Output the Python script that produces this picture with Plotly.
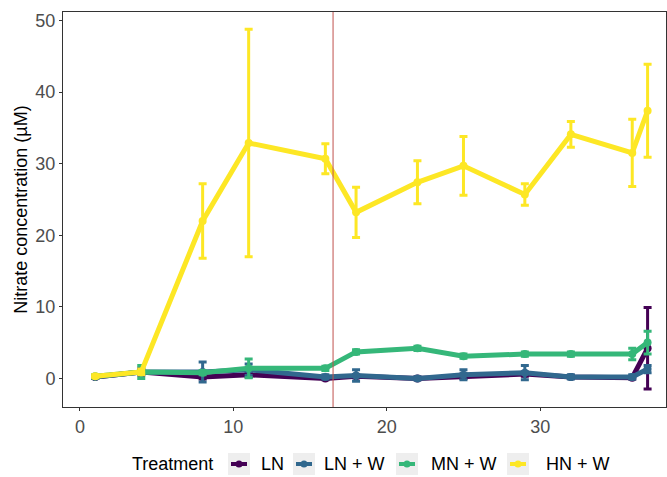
import plotly.graph_objects as go

# Sampling days
days = [1, 4, 8, 11, 16, 18, 22, 25, 29, 32, 36, 37]

# Mean nitrate concentration (µM) per treatment and its standard error
ln_mean = [0.2, 0.9, 0.2, 0.5, 0.0, 0.3, 0.0, 0.3, 0.6, 0.2, 0.1, 4.2]
ln_err = [0.2, 0.3, 0.3, 0.3, 0.2, 0.2, 0.2, 0.3, 0.3, 0.2, 0.2, 5.7]

lnw_mean = [0.2, 0.9, 0.9, 1.2, 0.2, 0.4, 0.0, 0.5, 0.8, 0.2, 0.2, 1.3]
lnw_err = [0.2, 0.5, 1.4, 0.8, 0.3, 0.8, 0.2, 0.7, 1.0, 0.3, 0.3, 0.5]

mnw_mean = [0.3, 0.9, 0.8, 1.4, 1.4, 3.7, 4.2, 3.1, 3.4, 3.4, 3.4, 5.0]
mnw_err = [0.2, 0.9, 0.3, 1.3, 0.3, 0.3, 0.3, 0.3, 0.3, 0.3, 0.8, 1.6]

hnw_mean = [0.3, 0.9, 22.0, 32.9, 30.7, 23.2, 27.4, 29.7, 25.7, 34.1, 31.5, 37.4]
hnw_err = [0.2, 0.4, 5.2, 15.9, 2.1, 3.5, 3.0, 4.1, 1.5, 1.8, 4.7, 6.5]

treatments = ["LN", "LN + W", "MN + W", "HN + W"]
colors = ["#440154", "#31688E", "#35B779", "#FDE725"]
means = [ln_mean, lnw_mean, mnw_mean, hnw_mean]
errs = [ln_err, lnw_err, mnw_err, hnw_err]

event_day = 16.5
x_ticks = [0, 10, 20, 30]
y_ticks = [0, 10, 20, 30, 40, 50]

FONT = "Liberation Sans, Arial, sans-serif"
W, H = 667, 477
ML, MR, MT, MB = 63, 1, 12, 70
PW, PH = W - ML - MR, H - MT - MB


def px(xp):
    """Pixel column -> paper x."""
    return (xp - ML) / PW


def py(yp):
    """Pixel row -> paper y."""
    return (H - MB - yp) / PH


fig = go.Figure()
for name, col, m, e in zip(treatments, colors, means, errs):
    fig.add_trace(go.Scatter(
        x=days, y=m, name=name, mode="lines+markers", showlegend=False,
        line=dict(color=col, width=5),
        marker=dict(color=col, size=8, symbol="circle"),
        error_y=dict(type="data", array=e, visible=True,
                     color=col, thickness=3, width=4),
    ))

fig.add_shape(type="line", xref="x", yref="paper",
              x0=event_day, x1=event_day, y0=0, y1=1,
              line=dict(color="#C0504D", width=1))

# Legend drawn below the panel: title, grey keys with line+point glyphs, labels
legend_y = 464
key_centers = [239, 304, 407, 518]
label_starts = [259, 322, 429, 544]
annotations = [dict(text="Treatment", xref="paper", yref="paper",
                    x=px(130), y=py(legend_y), xanchor="left", yanchor="middle",
                    showarrow=False, font=dict(family=FONT, size=18, color="black"))]
shapes = []
for name, col, kc, ls in zip(treatments, colors, key_centers, label_starts):
    shapes.append(dict(type="rect", xref="paper", yref="paper",
                       x0=px(kc - 11), x1=px(kc + 11),
                       y0=py(legend_y + 11), y1=py(legend_y - 11),
                       fillcolor="#EEEEEE", line=dict(width=0)))
    shapes.append(dict(type="line", xref="paper", yref="paper",
                       x0=px(kc - 8), x1=px(kc + 8),
                       y0=py(legend_y), y1=py(legend_y),
                       line=dict(color=col, width=4)))
    shapes.append(dict(type="circle", xref="paper", yref="paper",
                       x0=px(kc - 3.5), x1=px(kc + 3.5),
                       y0=py(legend_y + 3.5), y1=py(legend_y - 3.5),
                       fillcolor=col, line=dict(width=0)))
    annotations.append(dict(text=name, xref="paper", yref="paper",
                            x=px(ls), y=py(legend_y), xanchor="left", yanchor="middle",
                            showarrow=False, font=dict(family=FONT, size=18, color="black")))
for s in shapes:
    fig.add_shape(**s)

axis_common = dict(
    showline=True, linecolor="#333333", linewidth=1, mirror=True,
    showgrid=False, zeroline=False,
    ticks="outside", ticklen=3, tickcolor="#333333",
    tickfont=dict(family=FONT, size=18, color="#4D4D4D"),
)

fig.update_layout(
    width=W, height=H,
    margin=dict(l=ML, r=MR, t=MT, b=MB),
    paper_bgcolor="white", plot_bgcolor="white",
    font=dict(family=FONT, color="black"),
    xaxis=dict(range=[-1.1, 38.2], tickvals=x_ticks, **axis_common),
    yaxis=dict(range=[-4.0, 51.2], tickvals=y_ticks,
               title=dict(text="Nitrate concentration (µM)",
                          font=dict(family=FONT, size=18, color="black"), standoff=3),
               **axis_common),
    showlegend=False,
    annotations=annotations,
)

fig.write_html("out.html")
